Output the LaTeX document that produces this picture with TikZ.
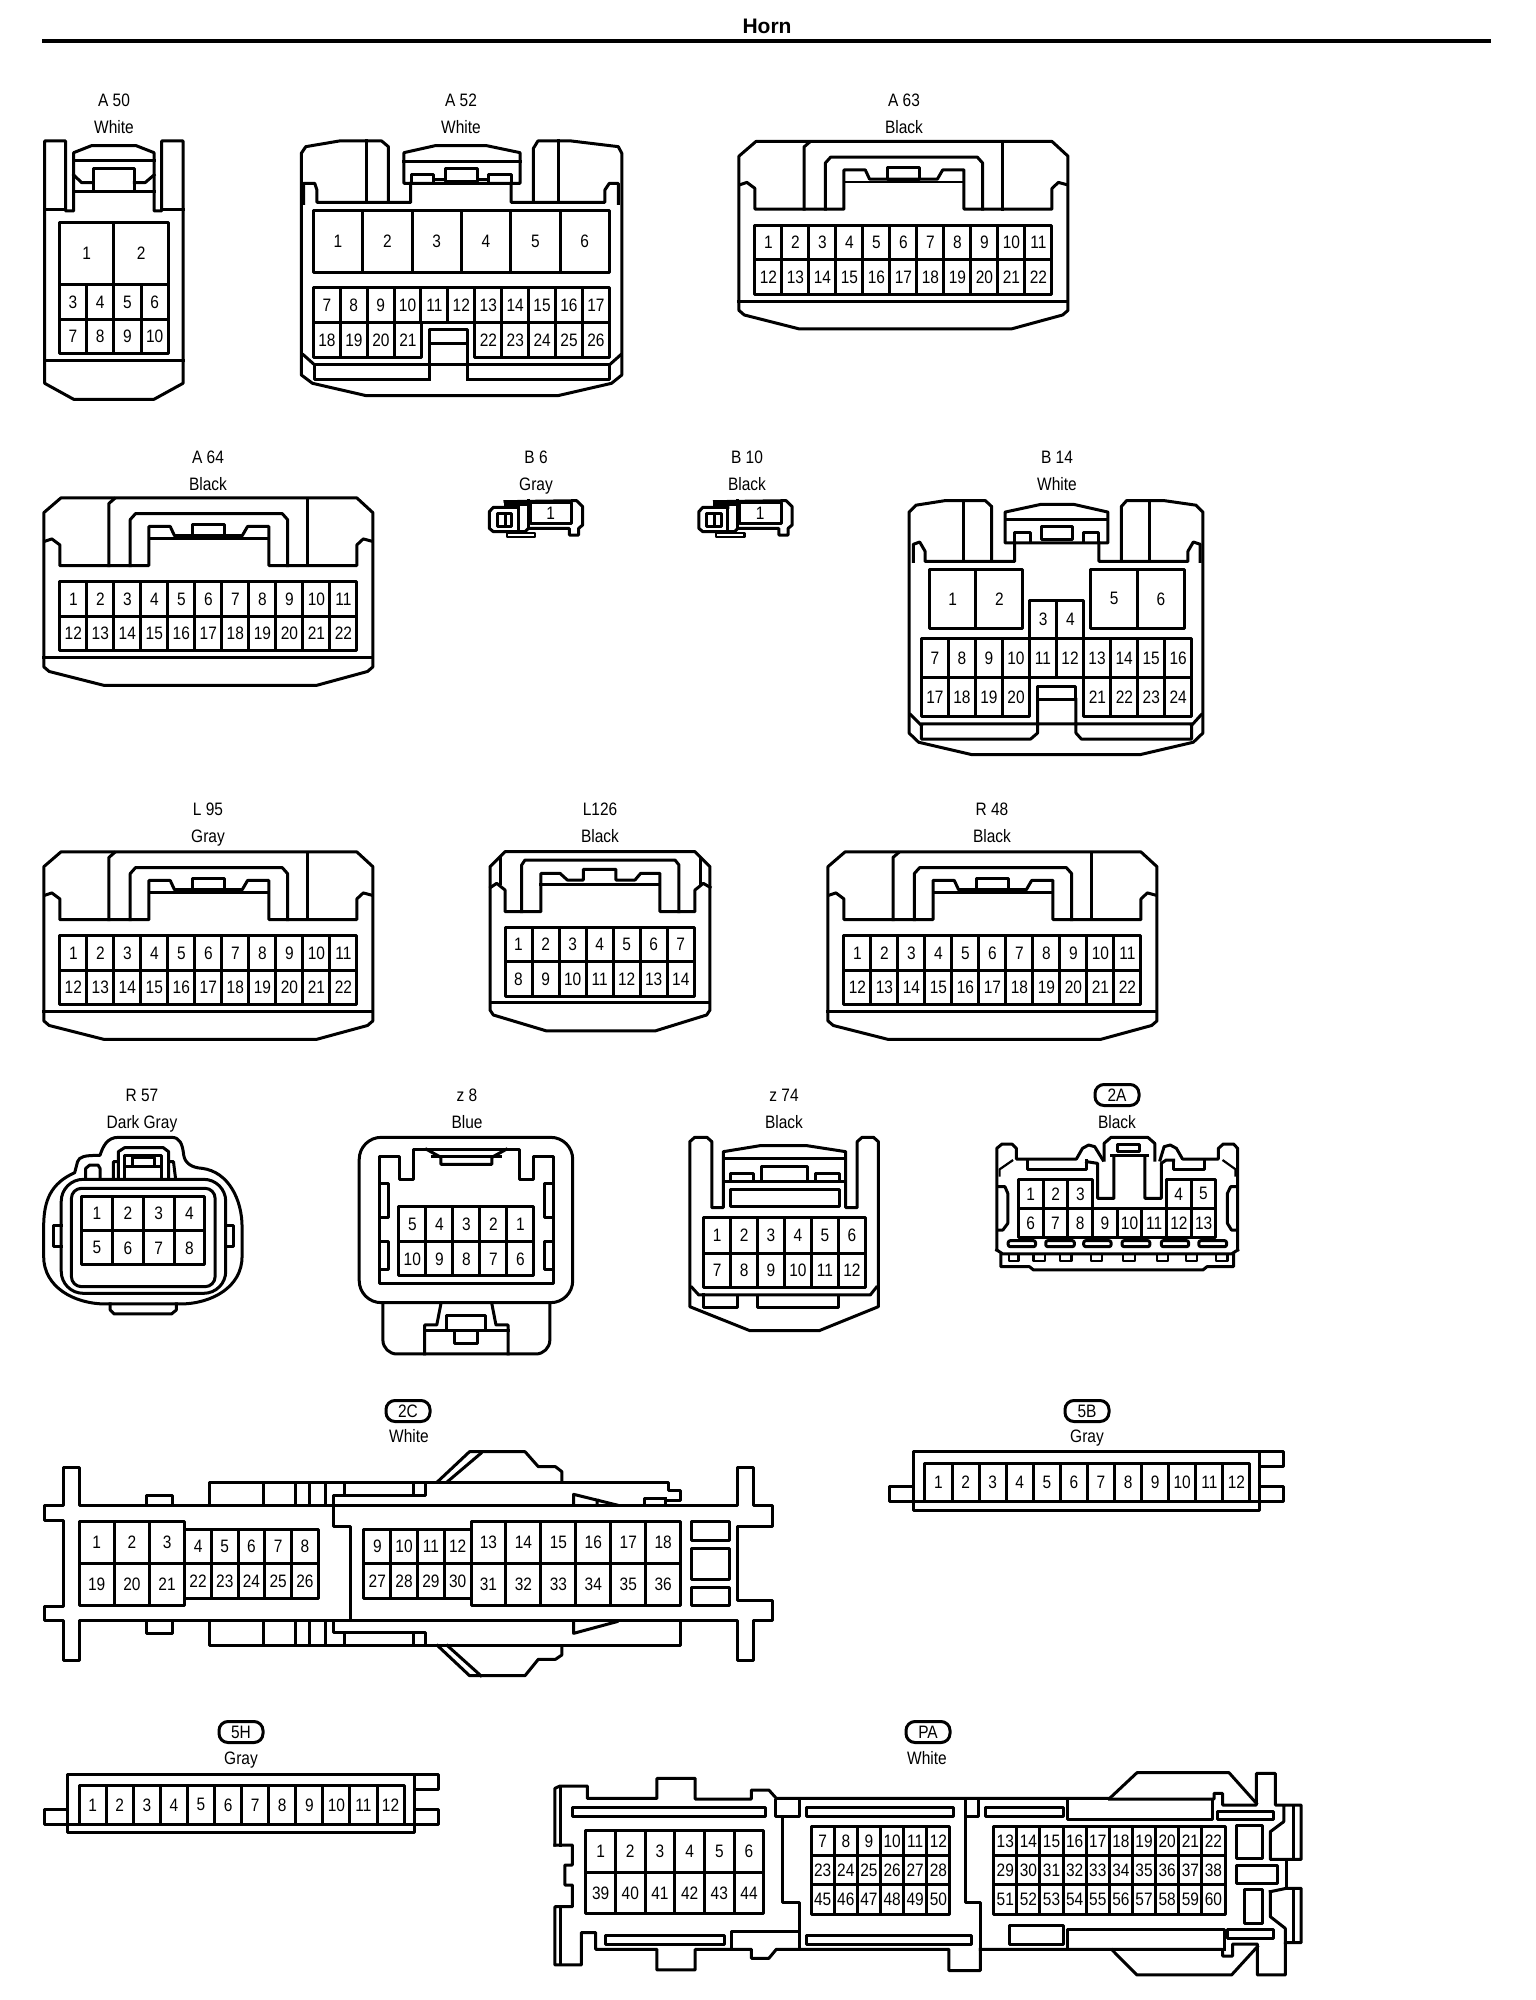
\documentclass[tikz,border=0pt]{standalone}
\usepackage{fontspec}
\setmainfont{Liberation Sans}
\newfontfamily\diagfont[FakeStretch=0.86]{Liberation Sans}
\tikzset{
  wire/.style={line width=3pt,line join=round,line cap=rect},
  thin wire/.style={line width=2.2pt,line join=round},
  pin/.style={inner sep=0pt,anchor=center,font=\diagfont\fontsize{18}{18}\selectfont},
  lab/.style={inner sep=0pt,anchor=base,font=\diagfont\fontsize{18}{18}\selectfont},
  heading/.style={inner sep=0pt,anchor=base,font=\bfseries\fontsize{21}{21}\selectfont},
  badge/.style={draw,line width=3pt,rounded corners=9pt,minimum width=44pt,minimum height=21pt,inner sep=0pt,anchor=center,font=\diagfont\fontsize{18}{18}\selectfont},
  zA/.style={x=0.4464pt,y=-0.3333pt},
  zB/.style={x=0.5333pt,y=-0.4603pt},
  zC/.style={x=0.4082pt,y=-0.3333pt},
  zE/.style={x=0.4911pt,y=-0.3333pt},
  zF/.style={x=0.4975pt,y=-0.3333pt},
  zT/.style={x=0.3333pt,y=-0.3333pt},
}
\newcommand{\pinrow}[6]{%
  \pgfmathsetmacro{\pincw}{(#3-#2)/#1}%
  \foreach \p [count=\i] in {#6} {
    \draw[wire] ({#2+(\i-1)*\pincw},#4) rectangle ({#2+\i*\pincw},#5);
    \node[pin] (\conname-\p) at ({#2+(\i-.5)*\pincw},{(#4+#5)/2}) {\p};
  }}
\newcommand{\lbl}[4]{\node[lab] (#1) at (#2,#3) {#4};}
\newcommand{\conwide}[3]{%
  \begin{scope}[shift={(#2,#3)},zB]
  \def\conname{#1}
  \draw[wire] (73,210)--(105,178)--(660,178)--(690,210)--(690,545)--(680,555)--(585,585)--(185,585)--(83,555)--(73,545)--cycle;
  \draw[wire] (73,525)--(690,525);
  \draw[wire] (75,272)--(88,267)--(103,280)--(103,325)--(270,325)--(270,240)--(310,240)--(318,260)--(445,260)--(455,240)--(495,240)--(495,325)--(660,325)--(660,280)--(672,267)--(688,272);
  \draw[wire] (195,325)--(195,190)--(205,180);
  \draw[wire] (568,325)--(568,180);
  \draw[wire] (235,325)--(235,225)--(245,212)--(520,212)--(530,225)--(530,325);
  \draw[wire] (352,260) rectangle (412,235);
  \draw[thin wire] (270,266)--(495,266);
  \pinrow{11}{103}{660}{360}{435}{1,...,11}
  \pinrow{11}{103}{660}{435}{510}{12,...,22}
  \end{scope}}
\newcommand{\conmini}[3]{%
  \begin{scope}[shift={(#2,#3)},zT]
  \def\conname{#1}
  \draw[wire] (75,35)--(290,32)--(308,50)--(308,105)--(296,115)--(296,135)--(268,135)--(268,115)--(145,115)--(135,125)--(40,125)--(28,115)--(28,65)--(40,52)--(115,52);
  \draw[wire] (75,42)--(145,42);
  \draw[wire] (115,52)--(115,125);
  \draw[wire] (145,32)--(145,115);
  \draw[wire] (150,38) rectangle (275,100);
  \draw[wire] (52,70) rectangle (95,108);
  \draw[wire] (75,70)--(75,108);
  \draw[thin wire] (80,130)--(165,130)--(165,140)--(80,140)--cycle;
  \node[pin] (\conname-1) at (212,69) {1};
  \end{scope}}
\newcommand{\conbar}[3]{%
  \begin{scope}[shift={(#2,#3)},zT]
  \def\conname{#1}
  \draw[wire] (0,0) rectangle (1040,175);
  \draw[wire] (0,150)--(1040,150);
  \draw[wire] (0,105)--(-70,105)--(-70,150)--(0,150);
  \draw[wire] (1040,0)--(1112,0)--(1112,45)--(1040,45);
  \draw[wire] (1040,105)--(1112,105)--(1112,150)--(1040,150);
  \pinrow{12}{35}{1010}{35}{150}{1,...,12}
  \end{scope}}
\begin{document}
\begin{tikzpicture}[x=1pt,y=-1pt]
\fill[white] (0,0) rectangle (1536,2000);
\useasboundingbox (0,0) rectangle (1536,2000);
\node[heading] (title) at (767,33) {Horn};
\coordinate (rulea) at (42,41);
\coordinate (ruleb) at (1491,41);
\draw[line width=4.5pt] (rulea)--(ruleb);

% A 50
\lbl{a50t}{114}{106}{A 50}\lbl{a50c}{114}{133}{White}
\begin{scope}[zA]
\def\conname{a50}
\draw[wire] (100,630)--(100,423)--(147,423)--(147,633)--(165,633)--(165,458)--(205,437)--(305,437)--(345,458)--(345,633)--(362,633)--(362,423)--(410,423)--(410,1150)--(345,1198)--(165,1198)--(100,1150)--cycle;
\draw[wire] (100,630)--(147,630) (362,630)--(410,630);
\draw[wire] (165,483)--(345,483) (165,575)--(345,575);
\draw[wire] (209,570)--(209,505)--(301,505)--(301,570);
\draw[wire] (165,525)--(183,548)--(209,548) (301,548)--(325,548)--(345,525);
\draw[wire] (100,1082)--(410,1082);
\pinrow{2}{133}{377}{668}{853}{1,2}
\pinrow{4}{133}{377}{853}{960}{3,4,5,6}
\pinrow{4}{133}{377}{960}{1060}{7,8,9,10}
\end{scope}

% A 52
\lbl{a52t}{461}{106}{A 52}\lbl{a52c}{461}{133}{White}
\begin{scope}[zA]
\def\conname{a52}
\draw[wire] (870,607)--(870,440)--(855,423)--(760,423)--(685,440)--(675,460)--(675,1125)--(700,1150)--(820,1187)--(1250,1187)--(1370,1150)--(1393,1125)--(1393,460)--(1385,440)--(1280,423)--(1205,423)--(1195,445)--(1195,607);
\draw[wire] (820,423)--(820,607) (1250,423)--(1250,607);
\draw[wire] (680,610)--(680,550)--(705,550)--(710,570)--(710,607)--(920,607)--(920,550);
\draw[wire] (1145,550)--(1145,607)--(1355,607)--(1355,570)--(1365,550)--(1385,550)--(1385,610);
\draw[wire] (905,550)--(905,458)--(975,437)--(1090,437)--(1165,458)--(1165,550)--cycle;
\draw[wire] (905,485)--(1165,485);
\draw[wire] (922,550)--(922,525)--(972,525)--(972,550);
\draw[wire] (998,545)--(998,505)--(1070,505)--(1070,545)--cycle;
\draw[wire] (1095,550)--(1095,525)--(1145,525)--(1145,550);
\draw[wire] (972,540)--(998,540) (1070,540)--(1095,540);
\pinrow{6}{702}{1365}{632}{817}{1,...,6}
\pinrow{11}{702}{1365}{862}{968}{7,...,17}
\pinrow{4}{702}{944}{968}{1072}{18,...,21}
\pinrow{5}{1064}{1365}{968}{1072}{22,...,26}
\draw[wire] (963,1140)--(963,990)--(1047,990)--(1047,1140);
\draw[wire] (963,1030)--(1047,1030);
\draw[wire] (705,1093)--(1365,1093);
\draw[wire] (705,1093)--(705,1140)--(963,1140) (1047,1140)--(1365,1140)--(1365,1093);
\draw[wire] (680,1065)--(705,1095) (1365,1095)--(1390,1065);
\end{scope}

% A 63, A 64, L 95, R 48
\lbl{a63t}{904}{106}{A 63}\lbl{a63c}{904}{133}{Black}
\begin{scope}[shift={(702.5,61)}]\conwide{a63}{-2.5}{-1.5}\end{scope}
\lbl{a64t}{208}{463}{A 64}\lbl{a64c}{208}{490}{Black}
\begin{scope}[shift={(702.5,61)}]\conwide{a64}{-697.6}{355}\end{scope}
\lbl{l95t}{208}{815}{L 95}\lbl{l95c}{208}{842}{Gray}
\begin{scope}[shift={(702.5,61)}]\conwide{l95}{-697.6}{709}\end{scope}
\lbl{r48t}{992}{815}{R 48}\lbl{r48c}{992}{842}{Black}
\begin{scope}[shift={(702.5,61)}]\conwide{r48}{86.5}{709}\end{scope}

% B 6, B 10
\lbl{b6t}{536}{463}{B 6}\lbl{b6c}{536}{490}{Gray}
\conmini{b6}{480}{490}
\lbl{b10t}{747}{463}{B 10}\lbl{b10c}{747}{490}{Black}
\conmini{b10}{689.5}{490}

% B 14
\lbl{b14t}{1057}{463}{B 14}\lbl{b14c}{1057}{490}{White}
\begin{scope}[shift={(700,61)},zB]
\def\conname{b14}
\draw[wire] (547,1087)--(547,968)--(535,955)--(460,955)--(405,965)--(392,980)--(392,1460)--(410,1480)--(510,1507)--(825,1507)--(925,1480)--(943,1460)--(943,980)--(930,965)--(870,955)--(800,955)--(790,968)--(790,1087);
\draw[wire] (495,955)--(495,1087) (842,955)--(842,1087);
\draw[wire] (400,1087)--(400,1050)--(412,1045)--(422,1065)--(422,1087)--(590,1087)--(590,1047);
\draw[wire] (748,1047)--(748,1087)--(915,1087)--(915,1065)--(925,1045)--(938,1050)--(938,1087);
\draw[wire] (572,1047)--(572,980)--(640,963)--(700,963)--(765,980)--(765,1047)--cycle;
\draw[wire] (572,995)--(765,995);
\draw[wire] (590,1047)--(590,1025)--(620,1025)--(620,1047);
\draw[wire] (640,1040)--(640,1012)--(698,1012)--(698,1040)--cycle;
\draw[wire] (720,1047)--(720,1025)--(748,1025)--(748,1047);
\pinrow{2}{430}{605}{1105}{1232}{1,2}
\pinrow{2}{733}{908}{1105}{1232}{5,6}
\pinrow{2}{618}{720}{1172}{1255}{3,4}
\pinrow{10}{415}{922}{1255}{1340}{7,...,16}
\pinrow{4}{415}{618}{1340}{1423}{17,...,20}
\pinrow{4}{720}{922}{1340}{1423}{21,...,24}
\draw[wire] (633,1387)--(633,1358)--(705,1358)--(705,1387)--cycle;
\draw[wire] (633,1387)--(633,1460)--(620,1473)--(415,1473)--(415,1440)--(922,1440)--(922,1473)--(715,1473)--(705,1460)--(705,1387);
\draw[wire] (395,1420)--(415,1443) (922,1443)--(940,1420);
\end{scope}

% L126
\lbl{l126t}{600}{815}{L126}\lbl{l126c}{600}{842}{Black}
\begin{scope}[shift={(480,800)},zT]
\def\conname{l126}
\draw[wire] (30,200)--(75,155)--(645,155)--(690,200)--(690,630)--(680,645)--(525,693)--(200,693)--(40,645)--(30,630)--cycle;
\draw[wire] (30,607)--(690,607);
\draw[wire] (32,262)--(50,250)--(75,270)--(75,335)--(183,335)--(183,220)--(240,220)--(262,240)--(310,240)--(310,208)--(408,208)--(408,240)--(465,240)--(482,220)--(540,220)--(540,335)--(645,335)--(645,270)--(670,250)--(690,262);
\draw[wire] (183,252)--(540,252);
\draw[wire] (125,335)--(125,195)--(135,180)--(585,180)--(597,195)--(597,335);
\draw[wire] (60,175)--(60,250) (663,175)--(663,250);
\pinrow{7}{75}{643}{382}{485}{1,...,7}
\pinrow{7}{75}{643}{485}{590}{8,...,14}
\end{scope}

% R 57
\lbl{r57t}{142}{1101}{R 57}\lbl{r57c}{142}{1128}{Dark Gray}
\begin{scope}[shift={(0,1080)},zC]
\def\conname{r57}
\draw[wire] (107,440) .. controls (107,360) and (125,310) .. (183,278) -- (190,245) .. controls (195,230) and (205,226) .. (245,226) .. controls (252,200) and (262,172) .. (290,172) -- (420,172) .. controls (440,172) and (447,190) .. (450,225) .. controls (453,250) and (470,263) .. (495,265) .. controls (560,275) and (593,360) .. (593,440) -- (593,530) .. controls (593,620) and (520,672) .. (440,672) -- (260,672) .. controls (180,672) and (107,620) .. (107,530) -- cycle;
\draw[wire,rounded corners=22pt] (150,298) rectangle (553,640);
\draw[wire,rounded corners=10pt] (175,325) rectangle (527,620);
\pinrow{4}{200}{502}{350}{452}{1,...,4}
\pinrow{4}{200}{502}{452}{555}{5,...,8}
\draw[wire] (290,295)--(290,215)--(305,203)--(400,203)--(413,215)--(413,295);
\draw[wire] (305,295)--(305,225)--(395,225)--(395,295);
\draw[wire] (325,232) rectangle (378,258);
\draw[wire] (305,258)--(395,258);
\draw[wire] (278,295)--(278,245)--(290,245) (413,245)--(425,245)--(430,295);
\draw[wire] (210,295)--(210,265)--(220,255)--(240,255)--(245,265)--(245,295);
\draw[wire] (150,435)--(130,435)--(130,500)--(150,500) (553,435)--(572,435)--(572,500)--(553,500);
\draw[wire] (270,672)--(270,690)--(280,702)--(420,702)--(432,690)--(432,672);
\end{scope}

% z 8
\lbl{z8t}{467}{1101}{z 8}\lbl{z8c}{467}{1128}{Blue}
\begin{scope}[shift={(0,1080)},zC]
\def\conname{z8}
\draw[wire,rounded corners=22pt] (880,172) rectangle (1403,668);
\draw[wire] (930,230)--(978,230)--(978,298)--(1012,298)--(1012,208)--(1272,208)--(1272,298)--(1307,298)--(1307,230)--(1355,230)--(1355,610)--(930,610)--cycle;
\draw[wire] (1045,208)--(1080,232)--(1080,253)--(1205,253)--(1205,232)--(1240,208);
\draw[wire] (1060,230)--(1225,230);
\draw[wire] (930,310)--(952,310)--(952,413)--(930,413) (930,485)--(952,485)--(952,568)--(930,568);
\draw[wire] (1355,310)--(1333,310)--(1333,413)--(1355,413) (1355,485)--(1333,485)--(1333,568)--(1355,568);
\pinrow{5}{977}{1308}{380}{485}{5,4,3,2,1}
\pinrow{5}{977}{1308}{485}{588}{10,9,8,7,6}
\draw[wire,rounded corners=14pt] (938,668)--(938,822)--(1347,822)--(1347,668);
\draw[wire] (1080,672)--(1070,735)--(1040,735)--(1040,822) (1205,672)--(1215,735)--(1245,735)--(1245,822);
\draw[wire] (1040,753)--(1245,753);
\draw[wire] (1095,753)--(1095,708)--(1190,708)--(1190,753);
\draw[wire] (1113,753)--(1113,792)--(1170,792)--(1170,753);
\end{scope}

% z 74
\lbl{z74t}{784}{1101}{z 74}\lbl{z74c}{784}{1128}{Black}
\begin{scope}[shift={(660,1080)},zC]
\def\conname{z74}
\draw[wire] (73,680)--(73,185)--(85,172)--(115,172)--(127,185)--(127,383)--(155,383)--(155,215)--(245,197)--(360,197)--(455,215)--(455,383)--(483,383)--(483,185)--(495,172)--(523,172)--(535,185)--(535,680)--(390,752)--(220,752)--cycle;
\draw[wire] (155,235)--(455,235);
\draw[wire] (172,305)--(172,280)--(230,280)--(230,305);
\draw[wire] (248,305)--(248,258)--(362,258)--(362,305);
\draw[wire] (380,305)--(380,280)--(440,280)--(440,305);
\draw[wire] (155,305)--(455,305);
\draw[wire] (172,327) rectangle (440,380);
\pinrow{6}{107}{503}{413}{520}{1,...,6}
\pinrow{6}{107}{503}{520}{622}{7,...,12}
\draw[wire] (78,622)--(95,645)--(515,645)--(530,622);
\draw[wire] (107,645)--(107,683)--(190,683)--(190,648) (240,648)--(240,683)--(438,683)--(438,648);
\end{scope}

% 2A
\node[badge] (b2a) at (1117,1095) {2A};
\lbl{b2ac}{1117}{1128}{Black}
\begin{scope}[shift={(660,1080)},zC]
\def\conname{c2a}
\draw[wire] (825,510)--(825,205)--(838,192)--(862,192)--(873,205)--(873,237)--(1020,237)--(1035,205)--(1050,195)--(1065,200)--(1085,240);
\draw[wire] (1415,510)--(1415,205)--(1405,192)--(1380,192)--(1368,205)--(1368,237)--(1280,237)--(1265,205)--(1250,195)--(1235,200)--(1225,240);
\draw[thin wire] (832,290)--(832,268)--(865,240) (1410,290)--(1410,268)--(1378,240);
\draw[wire] (900,240)--(900,268)--(1045,268)--(1045,240);
\draw[wire] (1258,240)--(1258,268)--(1335,268)--(1335,240);
\draw[wire] (1045,245)--(1072,250)--(1072,355)--(1112,355)--(1112,230);
\draw[wire] (1188,230)--(1188,355)--(1228,355)--(1228,250)--(1240,240)--(1258,240);
\draw[wire] (1088,240)--(1088,190)--(1105,172)--(1195,172)--(1212,190)--(1212,240);
\draw[wire] (1105,225)--(1195,225);
\draw[wire] (1120,215)--(1120,192)--(1175,192)--(1175,215)--cycle;
\pinrow{3}{878}{1060}{298}{385}{1,2,3}
\pinrow{2}{1240}{1362}{298}{385}{4,5}
\pinrow{8}{878}{1362}{385}{472}{6,...,13}
\draw[wire] (828,320)--(845,320)--(852,340)--(852,430)--(840,450)--(828,450);
\draw[wire] (1412,320)--(1398,320)--(1390,340)--(1390,430)--(1400,450)--(1412,450);
\foreach \a/\b in {853/920,945/1015,1038/1105,1132/1200,1228/1295,1320/1388}{
  \draw[wire,rounded corners=2pt] (\a,482) rectangle (\b,500);}
\draw[wire] (825,510)--(840,522)--(1400,522)--(1415,510);
\draw[wire] (835,525)--(835,560)--(905,560)--(915,570)--(1330,570)--(1340,560)--(1405,560)--(1405,525);
\foreach \a/\b in {855/878,915/943,980/1008,1055/1082,1135/1163,1218/1245,1288/1315,1362/1390}{
  \draw[thin wire] (\a,525)--(\a,542)--(\b,542)--(\b,525);}
\end{scope}

% 2C
\node[badge] (b2c) at (408,1411) {2C};
\lbl{b2cc}{409}{1442}{White}
\begin{scope}[shift={(30,1400)},zE]
\def\conname{c2c}
\draw[wire] (30,315)--(30,360)--(68,360)--(68,620)--(30,620)--(30,662)--(68,662)--(68,782)--(100,782)--(100,662)--(1440,662)--(1440,782)--(1473,782)--(1473,662)--(1512,662)--(1512,603)--(1440,603)--(1440,378)--(1512,378)--(1512,315)--(1473,315)--(1473,202)--(1440,202)--(1440,315)--(100,315)--(100,202)--(68,202)--(68,315)--cycle;
\draw[wire] (618,315)--(618,380)--(652,380)--(652,662);
\draw[wire] (365,315)--(365,247)--(1300,247)--(1300,270)--(1325,270)--(1325,300)--(1295,300)--(1295,315);
\draw[wire] (475,247)--(475,315) (540,247)--(540,315) (570,247)--(570,315) (602,247)--(602,315);
\draw[wire] (640,247)--(640,285) (780,247)--(780,285);
\draw[wire] (618,315)--(618,285)--(805,285)--(805,247);
\draw[wire] (830,245)--(895,155)--(1008,155)--(1035,200)--(1070,200)--(1083,215)--(1083,247);
\draw[wire] (850,245)--(918,160);
\draw[wire] (238,315)--(238,285)--(290,285)--(290,315);
\draw[wire] (1107,315)--(1107,283)--(1195,315) (1155,300)--(1155,315);
\draw[wire] (1252,315)--(1252,295)--(1295,295);
\draw[wire] (365,662)--(365,737)--(1325,737)--(1325,662);
\draw[wire] (475,662)--(475,737) (540,662)--(540,737) (570,662)--(570,737) (602,662)--(602,737);
\draw[wire] (640,698)--(640,737) (780,698)--(780,737);
\draw[wire] (618,662)--(618,698)--(805,698)--(805,737);
\draw[wire] (830,737)--(895,827)--(1008,827)--(1035,778)--(1070,778)--(1083,765)--(1083,737);
\draw[wire] (850,737)--(918,827);
\draw[wire] (238,662)--(238,700)--(290,700)--(290,662);
\draw[wire] (1107,662)--(1107,700)--(1195,665);
\pinrow{3}{100}{315}{363}{490}{1,2,3}
\pinrow{3}{100}{315}{490}{617}{19,20,21}
\pinrow{5}{315}{587}{387}{490}{4,...,8}
\pinrow{5}{315}{587}{490}{595}{22,...,26}
\pinrow{4}{680}{898}{387}{490}{9,...,12}
\pinrow{4}{680}{898}{490}{595}{27,...,30}
\pinrow{6}{898}{1325}{363}{490}{13,...,18}
\pinrow{6}{898}{1325}{490}{617}{31,...,36}
\draw[wire] (1347,365) rectangle (1425,420);
\draw[wire] (1347,445) rectangle (1425,538);
\draw[wire] (1347,562) rectangle (1425,617);
\end{scope}

% 5B, 5H
\node[badge] (b5b) at (1087,1411) {5B};
\lbl{b5bc}{1087}{1442}{Gray}
\conbar{c5b}{913.3}{1451.7}
\node[badge] (b5h) at (241,1732) {5H};
\lbl{b5hc}{241}{1764}{Gray}
\conbar{c5h}{67.5}{1774}

% PA
\node[badge] (bpa) at (928,1732) {PA};
\lbl{bpac}{927}{1764}{White}
\begin{scope}[shift={(540,1720)},zF]
\def\conname{pa}
\draw[wire] (30,375)--(30,205)--(40,198)--(95,198)--(95,235)--(235,235)--(235,175)--(312,175)--(312,237)--(425,237)--(425,210)--(460,210)--(475,235)--(1145,235)--(1200,158)--(1385,158)--(1440,250);
\draw[wire] (1145,237)--(1355,237)--(1355,220)--(1372,220)--(1372,255)--(1440,255)--(1440,160)--(1478,160)--(1478,255)--(1530,255)--(1530,418)--(1468,418)--(1468,335)--(1495,305)--(1495,258);
\draw[wire] (1515,258)--(1515,418);
\draw[wire] (1500,418)--(1500,505);
\draw[wire] (1468,515)--(1500,505)--(1530,505)--(1530,668)--(1498,668)--(1498,765)--(1442,765)--(1442,672)--(1392,672)--(1392,708)--(1372,708)--(1372,688)--(885,688);
\draw[wire] (1515,505)--(1515,668);
\draw[wire] (1468,515)--(1468,590)--(1498,625)--(1498,668);
\draw[wire] (1150,690)--(1200,765)--(1390,765)--(1442,680);
\draw[wire] (30,375)--(65,375)--(65,435)--(50,435)--(50,495)--(65,495)--(65,560)--(30,560)--(30,735)--(83,735)--(83,638)--(112,638)--(112,688)--(235,688)--(235,750)--(312,750)--(312,688)--(425,688)--(425,715)--(460,715)--(475,688)--(822,688)--(822,752)--(885,752)--(885,688);
\draw[wire] (42,205)--(42,375) (42,560)--(42,735);
\draw[wire] (487,290)--(487,548)--(522,548)--(522,688);
\draw[wire] (473,240)--(473,288)--(522,288)--(522,240);
\draw[wire] (855,290)--(855,548)--(885,548)--(885,688);
\draw[wire] (855,240)--(855,288)--(882,288)--(882,240);
\draw[wire] (65,262) rectangle (453,288);
\draw[wire] (535,262) rectangle (832,288);
\draw[wire] (895,262) rectangle (1052,288);
\draw[wire] (1060,240)--(1060,298)--(1352,298)--(1352,240);
\draw[wire] (1362,275) rectangle (1475,298);
\draw[wire] (132,647) rectangle (370,672);
\draw[wire] (385,688)--(385,635)--(522,635);
\draw[wire] (535,647) rectangle (868,672);
\draw[wire] (943,615) rectangle (1052,672);
\draw[wire] (1060,688)--(1060,628)--(1375,628)--(1375,688);
\draw[wire] (1382,628) rectangle (1475,655);
\draw[wire] (1400,315) rectangle (1453,415);
\draw[wire] (1400,435) rectangle (1483,490);
\draw[wire] (1417,508) rectangle (1453,610);
\pinrow{6}{92}{450}{330}{457}{1,...,6}
\pinrow{6}{92}{450}{457}{580}{39,...,44}
\pinrow{6}{545}{824}{320}{407}{7,...,12}
\pinrow{6}{545}{824}{407}{494}{23,...,28}
\pinrow{6}{545}{824}{494}{582}{45,...,50}
\pinrow{10}{912}{1377}{320}{407}{13,...,22}
\pinrow{10}{912}{1377}{407}{494}{29,...,38}
\pinrow{10}{912}{1377}{494}{582}{51,...,60}
\end{scope}
\end{tikzpicture}
\end{document}
